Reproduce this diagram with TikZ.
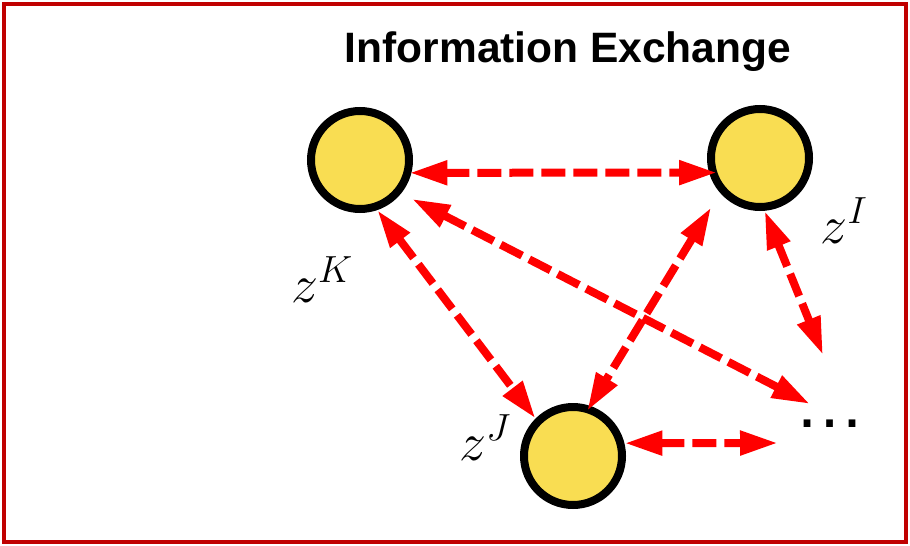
\RequirePackage{fix-cm}
\documentclass[tikz,border=0pt]{standalone}
\usepackage{fontspec}
\newfontfamily\arialfont{Liberation Sans}
\usetikzlibrary{arrows.meta}
\usetikzlibrary{positioning}
\definecolor{agentyellow}{RGB}{249,221,82}
\definecolor{framered}{RGB}{192,0,0}
\tikzset{agent/.style={draw, circle, fill=agentyellow, line width=8pt, minimum size=98pt, inner sep=0pt, outer sep=4pt}}
\tikzset{exchange/.style={draw=red, line width=8pt, dash pattern=on 24pt off 8pt, {Triangle[length=38pt,width=23pt]}-{Triangle[length=38pt,width=23pt]}}}
\tikzset{zlabel/.style={anchor=base, font=\fontsize{54}{60}\selectfont}}

\begin{document}
\begin{tikzpicture}[x=1pt,y=-1pt]
\useasboundingbox (0,0) rectangle (910,546);

%frame
\draw[framered, line width=4pt] (4,4) rectangle (906,542);

%title
\node[anchor=base] (title) at (568,62) {\arialfont\bfseries\fontsize{42.5}{48}\selectfont Information Exchange};

%agents
\node[agent] (K) at (360,160) {};
\node[agent] (I) at (760,158) {};
\node[agent] (J) at (573,456) {};
\node[zlabel] (zK) at (322,302) {$z^K$};
\node[zlabel] (zI) at (844,243) {$z^I$};
\node[zlabel] (zJ) at (485,460) {$z^J$};

%others
\node[anchor=base, font=\arialfont\fontsize{71}{80}\selectfont] (dots) at (830,427) {…};
\coordinate (kend) at (810,404);
\coordinate (iend) at (823,355);
\coordinate (jend) at (778,443);

%exchanges
\draw[exchange, shorten <=-2pt, shorten >=-8pt] (K.-14) -- (I.196);
\draw[exchange] (K.-71) -- (J.135);
\draw[exchange, shorten <=17pt, shorten >=-6pt] (I.221) -- (J.71);
\draw[exchange, shorten <=12pt] (K.-39) -- (kend);
\draw[exchange] (I.-85) -- (iend);
\draw[exchange] (J.14) -- (jend);

\end{tikzpicture}
\end{document}
